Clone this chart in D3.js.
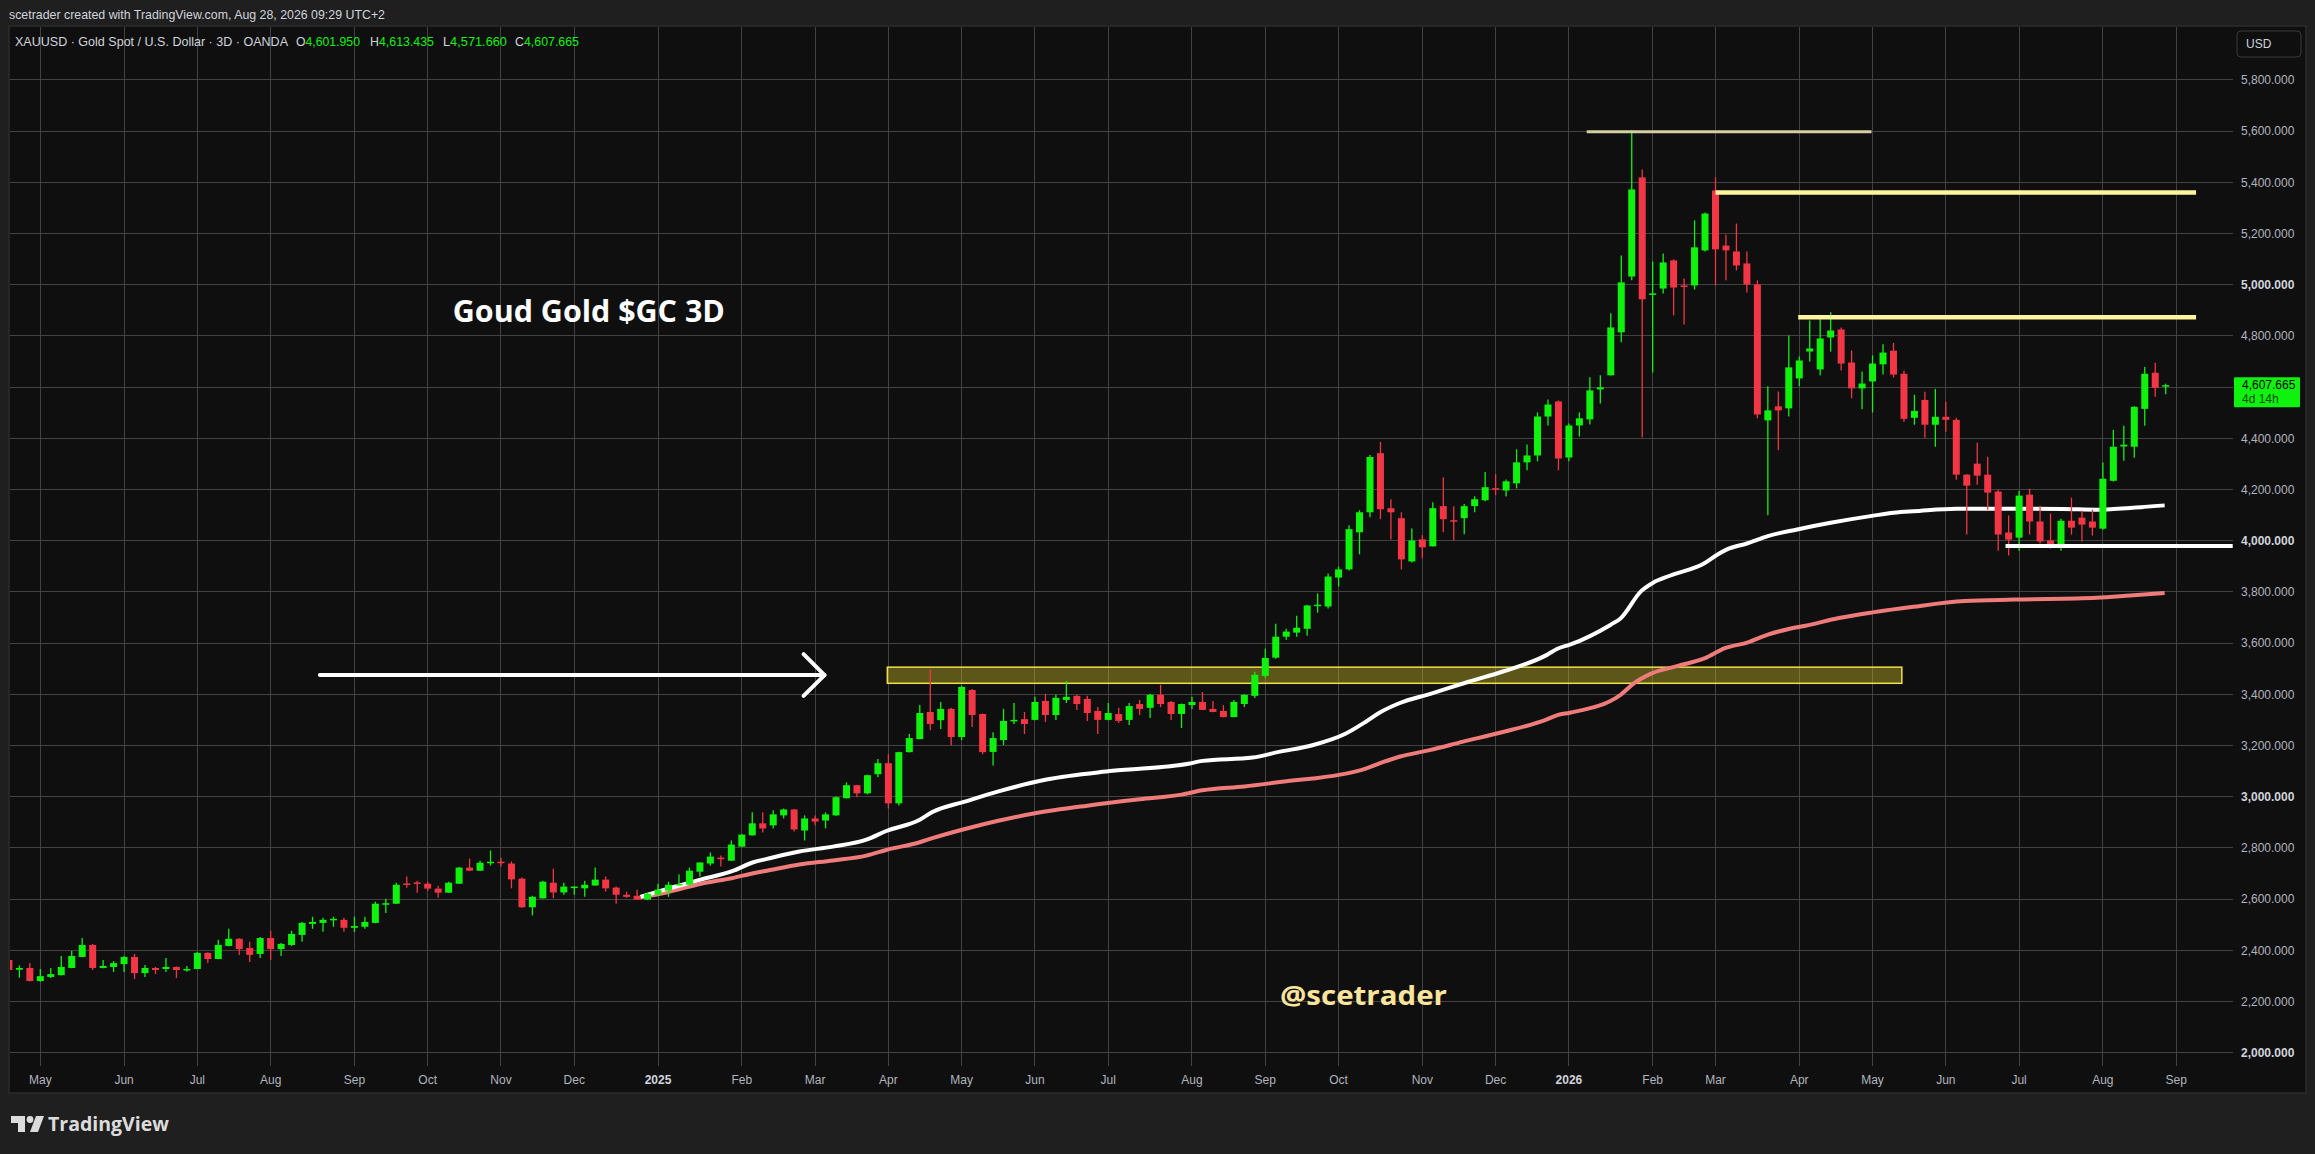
<!DOCTYPE html>
<head>
  <meta charset="utf-8">
  <script src="https://d3js.org/d3.v7.min.js"></script>
  <style>
    body{ margin: 0; background: #1f1f1f; }
    text{ font-family: "Liberation Sans", Arial, sans-serif; }
    .tick-label{ font-size: 12px; fill: #b2b5be; }
    .tick-label.major{ font-weight: 700; fill: #d1d4dc; }
    .grid{ stroke: #424242; stroke-width: 1; shape-rendering: crispEdges; }
  </style>
</head>
<body>
<script>
// 3D candles, XAUUSD, from late April 2024 to late August 2026
const opens = [
  2362,2324,2331,2280,2296,2303,2331,2374,2421,2331,
  2335,2346,2374,2311,2331,2327,2335,2322,2327,2390,
  2366,2417,2445,2409,2386,2448,2405,2421,2460,2503,
  2507,2520,2519,2488,2492,2507,2578,2582,2661,2665,
  2660,2641,2625,2660,2723,2711,2742,2746,2739,2680,
  2568,2603,2664,2626,2646,2642,2653,2676,2645,2617,
  2613,2598,2617,2633,2654,2656,2707,2739,2762,2750,
  2805,2849,2896,2888,2927,2950,2868,2915,2907,2927,
  2994,3045,3013,3088,3131,2974,3174,3225,3331,3299,
  3343,3233,3417,3323,3175,3221,3296,3303,3300,3374,
  3319,3378,3394,3382,3335,3300,3323,3300,3362,3347,
  3398,3370,3323,3358,3370,3343,3335,3311,3362,3394,
  3472,3543,3625,3641,3656,3748,3743,3856,3888,4033,
  4111,4342,4127,4088,3919,4005,3978,4135,4080,4088,
  4135,4158,4205,4196,4224,4306,4333,4485,4544,4325,
  4450,4474,4591,4646,4814,5032,5419,4961,4985,5095,
  4997,4997,5134,5368,5153,5130,5083,5001,4470,4525,
  4517,4634,4739,4669,4794,4825,4696,4595,4622,4689,
  4742,4652,4480,4550,4453,4484,4472,4258,4301,4258,
  4192,4032,4012,4180,4075,4001,3977,4078,4090,4075,
  4047,4234,4368,4367,4515,4656,4601.95];
const highs = [
  2368,2341,2350,2327,2331,2378,2397,2448,2425,2362,
  2358,2378,2386,2343,2335,2370,2337,2339,2394,2392,
  2441,2484,2447,2433,2452,2476,2429,2476,2511,2531,
  2527,2531,2527,2531,2531,2590,2601,2664,2688,2672,
  2668,2652,2668,2725,2758,2750,2790,2762,2747,2684,
  2613,2672,2719,2664,2650,2672,2723,2688,2649,2629,
  2637,2625,2660,2668,2696,2723,2744,2782,2770,2829,
  2854,2939,2939,2947,2954,2952,2927,2927,2939,3001,
  3056,3047,3086,3147,3166,3176,3245,3358,3499,3370,
  3347,3433,3421,3325,3252,3343,3366,3331,3390,3402,
  3398,3452,3398,3394,3350,3366,3347,3366,3378,3402,
  3437,3374,3364,3390,3409,3374,3358,3378,3400,3488,
  3578,3676,3656,3707,3750,3794,3872,3899,4060,4119,
  4335,4386,4162,4111,4048,4021,4150,4248,4135,4143,
  4174,4268,4260,4239,4357,4376,4501,4552,4548,4458,
  4501,4638,4646,4888,5114,5603,5450,5091,5122,5099,
  5024,5251,5282,5419,5196,5239,5130,5017,4603,4583,
  4802,4720,4860,4872,4892,4833,4743,4661,4724,4767,
  4773,4664,4570,4582,4593,4543,4480,4260,4383,4328,
  4199,4098,4195,4203,4137,4106,4086,4168,4117,4121,
  4305,4433,4449,4525,4679,4695,4613.435];
const lows = [
  2318,2293,2278,2277,2292,2302,2330,2373,2323,2330,
  2315,2315,2288,2296,2307,2315,2292,2316,2326,2350,
  2365,2416,2382,2354,2370,2362,2378,2417,2433,2484,
  2472,2492,2472,2472,2484,2506,2546,2581,2644,2625,
  2633,2605,2624,2659,2710,2710,2731,2727,2642,2566,
  2536,2602,2603,2617,2617,2609,2652,2630,2582,2605,
  2596,2596,2616,2609,2653,2655,2688,2731,2727,2749,
  2804,2848,2860,2876,2915,2864,2829,2888,2876,2926,
  2993,2998,3009,3076,2954,2966,3173,3224,3260,3264,
  3201,3221,3272,3166,3122,3202,3284,3245,3299,3292,
  3300,3366,3339,3296,3245,3299,3288,3280,3319,3307,
  3350,3300,3268,3343,3338,3330,3310,3310,3350,3386,
  3464,3539,3613,3625,3629,3719,3735,3821,3884,3947,
  4092,4084,4005,3888,3915,3931,3977,4033,4001,4025,
  4111,4154,4178,4173,4204,4275,4310,4450,4275,4310,
  4407,4454,4536,4645,4775,5017,4403,4657,4966,4880,
  4845,4981,5130,4997,5017,5056,4970,4478,4099,4353,
  4485,4603,4700,4646,4739,4665,4556,4513,4501,4649,
  4637,4465,4453,4402,4367,4426,4238,4024,4219,4121,
  3961,3942,3961,4024,3989,3969,3961,4024,3997,4020,
  4043,4231,4312,4324,4449,4562,4571.66];
const closes = [
  2323,2331,2280,2299,2307,2335,2378,2421,2331,2339,
  2350,2374,2311,2331,2323,2335,2323,2327,2390,2366,
  2421,2445,2405,2382,2448,2405,2425,2464,2507,2511,
  2519,2523,2488,2495,2511,2582,2584,2656,2656,2663,
  2641,2625,2664,2723,2711,2742,2746,2742,2677,2568,
  2609,2668,2626,2649,2649,2656,2676,2642,2617,2609,
  2598,2621,2637,2656,2659,2711,2743,2766,2756,2813,
  2852,2896,2876,2931,2950,2872,2915,2903,2931,2998,
  3045,3013,3084,3131,2974,3174,3229,3327,3284,3343,
  3233,3429,3319,3174,3229,3296,3300,3284,3370,3319,
  3386,3390,3362,3327,3300,3327,3296,3354,3343,3398,
  3362,3323,3362,3370,3339,3331,3311,3370,3398,3476,
  3542,3625,3645,3660,3747,3750,3860,3888,4045,4111,
  4327,4123,4111,3927,4001,3974,4127,4084,4077,4135,
  4162,4209,4203,4232,4306,4333,4485,4532,4321,4450,
  4478,4587,4599,4833,5009,5372,4943,4966,5087,4989,
  4995,5146,5278,5138,5134,5075,5001,4493,4509,4509,
  4677,4704,4751,4790,4821,4692,4595,4614,4692,4735,
  4649,4476,4507,4453,4484,4472,4258,4215,4254,4188,
  4024,4004,4176,4075,3997,3973,4078,4051,4063,4051,
  4242,4367,4375,4523,4652,4597,4607.665];

// time axis: label and the candle index it sits on
const monthLabels = ["May","Jun","Jul","Aug","Sep","Oct","Nov","Dec","2025","Feb","Mar","Apr","May","Jun",
  "Jul","Aug","Sep","Oct","Nov","Dec","2026","Feb","Mar","Apr","May","Jun","Jul","Aug","Sep"];
const monthIndex = [3,11,18,25,33,40,47,54,62,70,77,84,91,98,105,113,120,127,135,142,149,157,163,171,178,185,192,200,207];

const priceTicks = [2000,2200,2400,2600,2800,3000,3200,3400,3600,3800,4000,4200,4400,4600,4800,5000,5200,5400,5600,5800];

// moving averages, read at candle index positions
const whiteIdx = [60.3,62.8,66,69.2,71.1,72.4,75.5,78.7,81.9,83.8,87,88.2,91.4,94.6,99.1,105.4,112.8,114,118.8,121.3,
  124.5,127.7,129.6,130.9,132.8,135.7,139.5,142.7,146.9,147.9,149.1,153,153.9,155.9,157,158.7,161.9,163.2,164.1,166,
  168,170.8,174,177.8,180.7,181.9,186,191.5,196.2,199.4,202.6,205.9];
const whiteVal = [2609,2639,2675,2711,2744,2757,2786,2805,2832,2866,2910,2940,2982,3022,3067,3101,3130,3140,3153,3175,
  3201,3247,3293,3328,3365,3401,3450,3489,3554,3578,3594,3672,3695,3803,3835,3864,3911,3946,3966,3989,
  4018,4044,4070,4096,4112,4115,4125,4125,4124,4121,4128,4138];
const pinkIdx = [60.3,62.8,66,69.2,71.1,72.4,75.5,78.7,81.9,83.8,87,88.2,91.4,94.6,98,103,108,112,114,118,122.8,
  124.5,127.7,129.6,130.9,132.8,135.7,138.9,142.4,146.9,147.9,149.1,153.9,155.2,156.8,159.4,162,163.9,166.1,168,
  170,171.6,174.8,178,181.9,186.8,191.5,199.4,202.6,205.9];
const pinkVal = [2607,2626,2659,2683,2701,2711,2735,2751,2770,2792,2822,2838,2875,2907,2935,2965,2990,3008,3025,3040,3064,
  3071,3090,3110,3130,3156,3182,3215,3250,3302,3319,3328,3397,3443,3480,3511,3541,3580,3603,3633,
  3655,3668,3698,3720,3742,3764,3770,3777,3786,3796];

// drawings: horizontal levels (price, from index, to index)
const levelPrice = [5597, 5360, 4873, 3979];
const levelFrom = [150.7, 163, 170.9, 190.7];
const levelTo = [177.9, 208.9, 208.9, 212.4];
const zonePrice = [3443, 3506];
const zoneIdx = [83.9, 180.8];

const width = 2315, height = 1154;
const plot = {left: 10, right: 2233, top: 27, bottom: 1066};

const svg = d3.select("body").append("svg")
  .attr("width", width)
  .attr("height", height);

const x = d3.scaleLinear().domain([0, 206]).range([8.9, 2165.7]);
const y = d3.scaleLinear().domain([2400, 5600]).range([950.3, 131.1]);

// panel
svg.append("rect").attr("x", 9).attr("y", 26).attr("width", 2297).attr("height", 1067)
  .attr("fill", "#0f0f0f").attr("stroke", "#2c2c2c").attr("stroke-width", 1.5);

svg.append("defs").append("clipPath").attr("id", "clip")
  .append("rect").attr("x", plot.left).attr("y", plot.top)
  .attr("width", plot.right - plot.left).attr("height", plot.bottom - plot.top);

// grid
const grid = svg.append("g");
grid.selectAll("line.h").data(priceTicks).enter().append("line")
  .attr("class", "grid")
  .attr("x1", plot.left).attr("x2", plot.right)
  .attr("y1", d => y(d)).attr("y2", d => y(d));
grid.selectAll("line.v").data(monthIndex).enter().append("line")
  .attr("class", "grid")
  .attr("x1", d => x(d)).attr("x2", d => x(d))
  .attr("y1", plot.top).attr("y2", plot.bottom);

// price axis
svg.selectAll("text.price").data(priceTicks).enter().append("text")
  .attr("class", d => d % 1000 === 0 ? "tick-label major" : "tick-label")
  .attr("x", 2241).attr("y", d => y(d)).attr("dy", "0.35em")
  .text(d => d3.format(",.3f")(d));

// time axis
svg.selectAll("text.month").data(monthLabels).enter().append("text")
  .attr("class", d => /^\d/.test(d) ? "tick-label major" : "tick-label")
  .attr("x", (d, i) => x(monthIndex[i])).attr("y", 1084)
  .attr("text-anchor", "middle")
  .text(d => d);

const chart = svg.append("g").attr("clip-path", "url(#clip)");

// zone box
chart.append("rect")
  .attr("x", x(zoneIdx[0])).attr("width", x(zoneIdx[1]) - x(zoneIdx[0]))
  .attr("y", y(zonePrice[1])).attr("height", y(zonePrice[0]) - y(zonePrice[1]))
  .attr("fill", "rgba(200,185,40,0.42)").attr("stroke", "#efe04a").attr("stroke-width", 1.5);

// moving averages
const line = d3.line().x(d => x(d[0])).y(d => y(d[1])).curve(d3.curveMonotoneX);
chart.append("path").datum(pinkIdx.map((d, i) => [d, pinkVal[i]]))
  .attr("d", line).attr("fill", "none").attr("stroke", "#f07b7b").attr("stroke-width", 4);
chart.append("path").datum(whiteIdx.map((d, i) => [d, whiteVal[i]]))
  .attr("d", line).attr("fill", "none").attr("stroke", "#ffffff").attr("stroke-width", 4);

// candles
const candles = opens.map((o, i) => ({i: i, o: o, h: highs[i], l: lows[i], c: closes[i]}));
const up = "#0ef20e", down = "#f23645";
const cg = chart.selectAll("g.candle").data(candles).enter().append("g");
cg.append("line")
  .attr("x1", d => x(d.i)).attr("x2", d => x(d.i))
  .attr("y1", d => y(d.h)).attr("y2", d => y(d.l))
  .attr("stroke", d => d.c >= d.o ? up : down).attr("stroke-width", 1.3);
cg.append("rect")
  .attr("x", d => x(d.i) - 3.5).attr("width", 7)
  .attr("y", d => y(Math.max(d.o, d.c)))
  .attr("height", d => Math.max(1.5, Math.abs(y(d.o) - y(d.c))))
  .attr("fill", d => d.c >= d.o ? up : down);

// horizontal levels
const levelColor = ["#d4cfa2", "#fff59c", "#fff59c", "#ffffff"];
const levelWidth = [3, 4.5, 4.5, 4];
chart.selectAll("line.level").data(levelPrice).enter().append("line")
  .attr("x1", (d, i) => x(levelFrom[i])).attr("x2", (d, i) => x(levelTo[i]))
  .attr("y1", d => y(d)).attr("y2", d => y(d))
  .attr("stroke", (d, i) => levelColor[i]).attr("stroke-width", (d, i) => levelWidth[i]);

// arrow
const arrowY = y(3475);
chart.append("line").attr("x1", x(29.7)).attr("x2", x(77.9)).attr("y1", arrowY).attr("y2", arrowY)
  .attr("stroke", "#fff").attr("stroke-width", 4).attr("stroke-linecap", "round");
chart.append("path")
  .attr("d", `M${x(75.9)},${y(3557)} L${x(77.9)},${arrowY} L${x(75.9)},${y(3394)}`)
  .attr("fill", "none").attr("stroke", "#fff").attr("stroke-width", 4)
  .attr("stroke-linecap", "round").attr("stroke-linejoin", "round");

// text notes
chart.append("text").attr("x", x(42.4)).attr("y", y(4854))
  .attr("textLength", 272).attr("lengthAdjust", "spacingAndGlyphs")
  .style("font-family", "'Open Sans', sans-serif").style("font-weight", 700).style("font-size", "30px")
  .attr("fill", "#ffffff").text("Goud Gold $GC 3D");
chart.append("text").attr("x", x(121.4)).attr("y", y(2186))
  .attr("textLength", 167).attr("lengthAdjust", "spacingAndGlyphs")
  .style("font-family", "'Open Sans', sans-serif").style("font-weight", 700).style("font-size", "27px")
  .attr("fill", "#fbe59c").text("@scetrader");

// last price tag
const last = closes[closes.length - 1];
const ly = y(last);
svg.append("rect").attr("x", 2234).attr("y", ly - 8).attr("width", 66).attr("height", 30)
  .attr("fill", "#0ef20e").attr("rx", 1);
svg.append("text").attr("x", 2242).attr("y", ly + 4).style("font-size", "12px").attr("fill", "#000")
  .text(d3.format(",.3f")(last));
svg.append("text").attr("x", 2242).attr("y", ly + 18).style("font-size", "12px").attr("fill", "#0b4a0b")
  .text("4d 14h");

// currency box
svg.append("rect").attr("x", 2237).attr("y", 31).attr("width", 64).attr("height", 26).attr("rx", 4)
  .attr("fill", "none").attr("stroke", "#3a3a3a");
svg.append("text").attr("x", 2246).attr("y", 48).style("font-size", "12px").attr("fill", "#d1d4dc").text("USD");

// header and legend
svg.append("text").attr("x", 9).attr("y", 19)
  .attr("textLength", 376).attr("lengthAdjust", "spacingAndGlyphs")
  .style("font-size", "13px").attr("fill", "#d1d4dc")
  .text("scetrader created with TradingView.com, Aug 28, 2026 09:29 UTC+2");
svg.append("text").attr("x", 15).attr("y", 46)
  .attr("textLength", 273).attr("lengthAdjust", "spacingAndGlyphs")
  .style("font-size", "13px").attr("fill", "#d1d4dc")
  .text("XAUUSD · Gold Spot / U.S. Dollar · 3D · OANDA");
const ohlcKeys = ["O", "H", "L", "C"];
const ohlcVals = [opens[206], highs[206], lows[206], closes[206]];
const ohlcX = [296, 370, 443, 515];
ohlcKeys.forEach((k, i) => {
  const t = svg.append("text").attr("x", ohlcX[i]).attr("y", 46).style("font-size", "13px")
    .attr("textLength", 64).attr("lengthAdjust", "spacingAndGlyphs");
  t.append("tspan").attr("fill", "#d1d4dc").text(k);
  t.append("tspan").attr("fill", "#0ef20e").text(d3.format(",.3f")(ohlcVals[i]));
});

// footer logo
const logo = svg.append("g").attr("fill", "#dcdcdc");
logo.append("path").attr("d", "M11,1116 H25 V1132 H18 V1123 H11 Z");
logo.append("circle").attr("cx", 30).attr("cy", 1119.5).attr("r", 3.4);
logo.append("path").attr("d", "M36,1116 H44 L38,1132 H30 Z");
svg.append("text").attr("x", 48).attr("y", 1131)
  .attr("textLength", 121).attr("lengthAdjust", "spacingAndGlyphs")
  .style("font-family", "'Open Sans', sans-serif").style("font-weight", 700).style("font-size", "20px")
  .attr("fill", "#dcdcdc").text("TradingView");
</script>
</body>
